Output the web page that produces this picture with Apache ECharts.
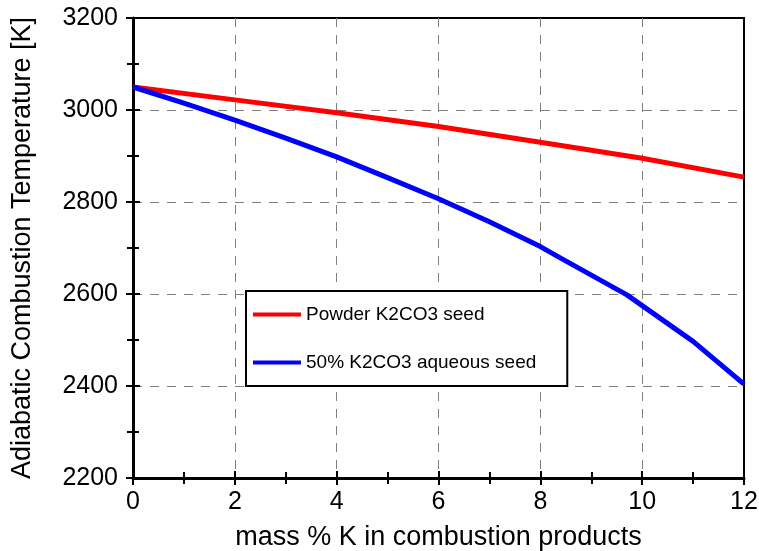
<!DOCTYPE html>
<html lang="en">
<head>
<meta charset="UTF-8">
<title>Adiabatic combustion temperature</title>
<style>
    body{ margin:0; background:#fff; }
    #main{ width:759px; height:551px; }
</style>
<script src="https://cdn.jsdelivr.net/npm/echarts@6/dist/echarts.min.js"></script>
</head>
<body>
<div id="main"></div>
<script type="text/javascript">
    // values
    var seriesNames = ['Powder K2CO3 seed', '50% K2CO3 aqueous seed'];
    var powderX = [0, 2, 4, 6, 8, 10, 12];
    var powderT = [3050, 3022, 2994, 2964, 2930, 2895, 2854];
    var aqueousX = [0, 1, 2, 3, 4, 5, 6, 7, 8, 8.4, 9.7, 11, 12];
    var aqueousT = [3050, 3015, 2978, 2939, 2898, 2853, 2807, 2757, 2703, 2678, 2598, 2497, 2404];

    function pairs(xs, ys){
        var out = [];
        for(var i=0;i<xs.length;i++){ out.push([xs[i], ys[i]]); }
        return out;
    }

    var font = 'Liberation Sans, Arial, sans-serif';
    var tickLbl = {fontSize:25, color:'#000', fontFamily:font, formatter:function(v){ return String(v); }};
    var dashed = {show:true, showMinLine:false, showMaxLine:false,
                  lineStyle:{color:'#808080', width:1, type:[9, 8]}};

    var option = {
        animation:false,
        grid:{
            left:133, right:15, top:18, bottom:73,
            outerBoundsMode:'none',
            show:true, borderColor:'#000', borderWidth:2, backgroundColor:'#fff'
        },
        legend:{
            orient:'vertical',
            left:246, top:291,
            data:seriesNames,
            icon:'rect',
            itemWidth:48, itemHeight:4,
            itemGap:29,
            padding:[14, 31, 14, 7],
            backgroundColor:'#fff',
            borderColor:'#000', borderWidth:2,
            textStyle:{fontSize:19, color:'#000', fontFamily:font}
        },
        xAxis:[{
            type:'value', min:0, max:12, interval:2,
            position:'bottom',
            name:'mass % K in combustion products',
            nameLocation:'middle', nameGap:46,
            nameTextStyle:{fontSize:27, color:'#000', fontFamily:font},
            axisLine:{show:true, lineStyle:{color:'#000', width:3}},
            axisTick:{show:true, inside:false, length:7, lineStyle:{color:'#000', width:2}},
            minorTick:{show:true, splitNumber:2, length:6, lineStyle:{color:'#000', width:2}},
            axisLabel:Object.assign({margin:12}, tickLbl),
            splitLine:dashed
        },{
            // second copy of the bottom axis: ticks pointing into the plot
            type:'value', min:0, max:12, interval:2,
            position:'bottom',
            axisLine:{show:false},
            axisTick:{show:true, inside:true, length:7, lineStyle:{color:'#000', width:2}},
            minorTick:{show:true, splitNumber:2, length:6, lineStyle:{color:'#000', width:2}},
            axisLabel:{show:false},
            splitLine:{show:false}
        }],
        yAxis:[{
            type:'value', min:2200, max:3200, interval:200,
            position:'left',
            name:'Adiabatic Combustion Temperature [K]',
            nameLocation:'middle', nameGap:97,
            nameTextStyle:{fontSize:27, color:'#000', fontFamily:font},
            axisLine:{show:true, lineStyle:{color:'#000', width:3}},
            axisTick:{show:true, inside:false, length:7, lineStyle:{color:'#000', width:2}},
            minorTick:{show:true, splitNumber:2, length:6, lineStyle:{color:'#000', width:2}},
            axisLabel:Object.assign({margin:15}, tickLbl),
            splitLine:dashed
        },{
            type:'value', min:2200, max:3200, interval:200,
            position:'left',
            axisLine:{show:false},
            axisTick:{show:true, inside:true, length:7, lineStyle:{color:'#000', width:2}},
            minorTick:{show:true, splitNumber:2, length:6, lineStyle:{color:'#000', width:2}},
            axisLabel:{show:false},
            splitLine:{show:false}
        }],
        series:[{
            name:seriesNames[0],
            type:'line',
            symbol:'none',
            data:pairs(powderX, powderT),
            itemStyle:{color:'#ff0000'},
            lineStyle:{color:'#ff0000', width:5},
            z:3
        },{
            name:seriesNames[1],
            type:'line',
            symbol:'none',
            data:pairs(aqueousX, aqueousT),
            itemStyle:{color:'#0000ff'},
            lineStyle:{color:'#0000ff', width:5},
            z:4
        }]
    };

    var chart = echarts.init(document.getElementById('main'), null, {renderer:'canvas'});
    chart.setOption(option);
</script>
</body>
</html>
